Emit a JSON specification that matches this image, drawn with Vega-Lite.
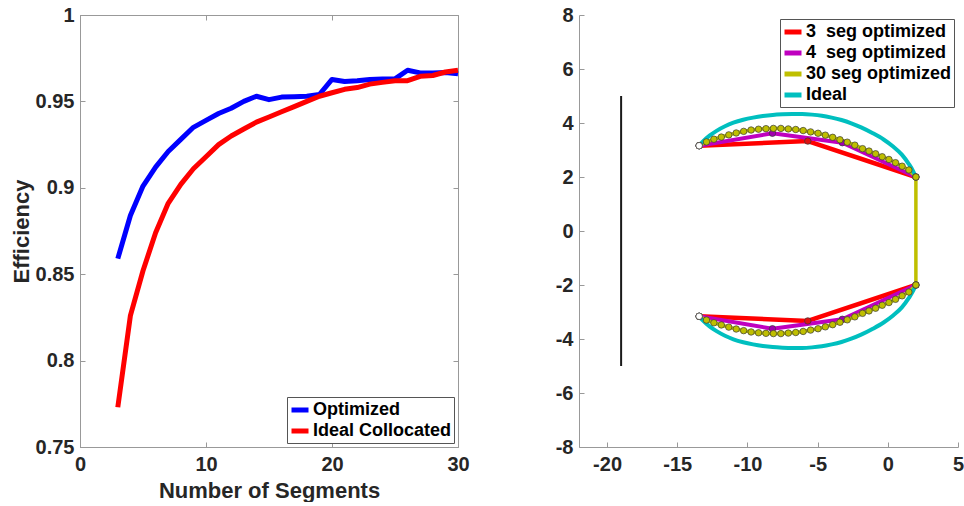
{
  "$schema": "https://vega.github.io/schema/vega-lite/v6.json",
  "background": "white",
  "padding": {"left": 9, "top": 4, "right": 0, "bottom": 0},
  "spacing": 121,
  "bounds": "flush",
  "datasets": {
    "eff": [
      {"n": 3, "eff": 0.859, "series": "Optimized"},
      {"n": 4, "eff": 0.884, "series": "Optimized"},
      {"n": 5, "eff": 0.901, "series": "Optimized"},
      {"n": 6, "eff": 0.912, "series": "Optimized"},
      {"n": 7, "eff": 0.921, "series": "Optimized"},
      {"n": 8, "eff": 0.928, "series": "Optimized"},
      {"n": 9, "eff": 0.935, "series": "Optimized"},
      {"n": 10, "eff": 0.939, "series": "Optimized"},
      {"n": 11, "eff": 0.943, "series": "Optimized"},
      {"n": 12, "eff": 0.946, "series": "Optimized"},
      {"n": 13, "eff": 0.950, "series": "Optimized"},
      {"n": 14, "eff": 0.953, "series": "Optimized"},
      {"n": 15, "eff": 0.951, "series": "Optimized"},
      {"n": 16, "eff": 0.9525, "series": "Optimized"},
      {"n": 17, "eff": 0.9527, "series": "Optimized"},
      {"n": 18, "eff": 0.953, "series": "Optimized"},
      {"n": 19, "eff": 0.954, "series": "Optimized"},
      {"n": 20, "eff": 0.9627, "series": "Optimized"},
      {"n": 21, "eff": 0.9615, "series": "Optimized"},
      {"n": 22, "eff": 0.962, "series": "Optimized"},
      {"n": 23, "eff": 0.9627, "series": "Optimized"},
      {"n": 24, "eff": 0.963, "series": "Optimized"},
      {"n": 25, "eff": 0.963, "series": "Optimized"},
      {"n": 26, "eff": 0.968, "series": "Optimized"},
      {"n": 27, "eff": 0.9665, "series": "Optimized"},
      {"n": 28, "eff": 0.9665, "series": "Optimized"},
      {"n": 29, "eff": 0.9667, "series": "Optimized"},
      {"n": 30, "eff": 0.966, "series": "Optimized"},
      {"n": 3, "eff": 0.773, "series": "Ideal Collocated"},
      {"n": 4, "eff": 0.826, "series": "Ideal Collocated"},
      {"n": 5, "eff": 0.852, "series": "Ideal Collocated"},
      {"n": 6, "eff": 0.874, "series": "Ideal Collocated"},
      {"n": 7, "eff": 0.891, "series": "Ideal Collocated"},
      {"n": 8, "eff": 0.902, "series": "Ideal Collocated"},
      {"n": 9, "eff": 0.911, "series": "Ideal Collocated"},
      {"n": 10, "eff": 0.918, "series": "Ideal Collocated"},
      {"n": 11, "eff": 0.925, "series": "Ideal Collocated"},
      {"n": 12, "eff": 0.930, "series": "Ideal Collocated"},
      {"n": 13, "eff": 0.934, "series": "Ideal Collocated"},
      {"n": 14, "eff": 0.938, "series": "Ideal Collocated"},
      {"n": 15, "eff": 0.941, "series": "Ideal Collocated"},
      {"n": 16, "eff": 0.944, "series": "Ideal Collocated"},
      {"n": 17, "eff": 0.947, "series": "Ideal Collocated"},
      {"n": 18, "eff": 0.950, "series": "Ideal Collocated"},
      {"n": 19, "eff": 0.953, "series": "Ideal Collocated"},
      {"n": 20, "eff": 0.955, "series": "Ideal Collocated"},
      {"n": 21, "eff": 0.957, "series": "Ideal Collocated"},
      {"n": 22, "eff": 0.958, "series": "Ideal Collocated"},
      {"n": 23, "eff": 0.960, "series": "Ideal Collocated"},
      {"n": 24, "eff": 0.961, "series": "Ideal Collocated"},
      {"n": 25, "eff": 0.962, "series": "Ideal Collocated"},
      {"n": 26, "eff": 0.962, "series": "Ideal Collocated"},
      {"n": 27, "eff": 0.9645, "series": "Ideal Collocated"},
      {"n": 28, "eff": 0.965, "series": "Ideal Collocated"},
      {"n": 29, "eff": 0.967, "series": "Ideal Collocated"},
      {"n": 30, "eff": 0.968, "series": "Ideal Collocated"}
    ],
    "wall": [
      {"x": -19, "y": 5},
      {"x": -19, "y": -5}
    ],
    "shape": [
      {"series": "3\u00a0 seg optimized", "part": "r-up", "ord": 0, "x": -13.44, "y": 3.16},
      {"series": "3\u00a0 seg optimized", "part": "r-up", "ord": 1, "x": -5.7, "y": 3.33},
      {"series": "3\u00a0 seg optimized", "part": "r-up", "ord": 2, "x": 2.0, "y": 2.0},
      {"series": "3\u00a0 seg optimized", "part": "r-lo", "ord": 0, "x": -13.44, "y": -3.16},
      {"series": "3\u00a0 seg optimized", "part": "r-lo", "ord": 1, "x": -5.7, "y": -3.33},
      {"series": "3\u00a0 seg optimized", "part": "r-lo", "ord": 2, "x": 2.0, "y": -2.0},
      {"series": "4\u00a0 seg optimized", "part": "m-up", "ord": 0, "x": -13.44, "y": 3.16},
      {"series": "4\u00a0 seg optimized", "part": "m-up", "ord": 1, "x": -8.22, "y": 3.62},
      {"series": "4\u00a0 seg optimized", "part": "m-up", "ord": 2, "x": -3.24, "y": 3.27},
      {"series": "4\u00a0 seg optimized", "part": "m-up", "ord": 3, "x": 2.0, "y": 2.0},
      {"series": "4\u00a0 seg optimized", "part": "m-lo", "ord": 0, "x": -13.44, "y": -3.16},
      {"series": "4\u00a0 seg optimized", "part": "m-lo", "ord": 1, "x": -8.22, "y": -3.62},
      {"series": "4\u00a0 seg optimized", "part": "m-lo", "ord": 2, "x": -3.24, "y": -3.27},
      {"series": "4\u00a0 seg optimized", "part": "m-lo", "ord": 3, "x": 2.0, "y": -2.0},
      {"series": "30 seg optimized", "part": "y", "ord": 0, "x": -13.44, "y": 3.16},
      {"series": "30 seg optimized", "part": "y", "ord": 1, "x": -12.92, "y": 3.30},
      {"series": "30 seg optimized", "part": "y", "ord": 2, "x": -12.39, "y": 3.40},
      {"series": "30 seg optimized", "part": "y", "ord": 3, "x": -11.86, "y": 3.48},
      {"series": "30 seg optimized", "part": "y", "ord": 4, "x": -11.33, "y": 3.56},
      {"series": "30 seg optimized", "part": "y", "ord": 5, "x": -10.80, "y": 3.63},
      {"series": "30 seg optimized", "part": "y", "ord": 6, "x": -10.27, "y": 3.69},
      {"series": "30 seg optimized", "part": "y", "ord": 7, "x": -9.74, "y": 3.74},
      {"series": "30 seg optimized", "part": "y", "ord": 8, "x": -9.21, "y": 3.77},
      {"series": "30 seg optimized", "part": "y", "ord": 9, "x": -8.68, "y": 3.79},
      {"series": "30 seg optimized", "part": "y", "ord": 10, "x": -8.15, "y": 3.80},
      {"series": "30 seg optimized", "part": "y", "ord": 11, "x": -7.62, "y": 3.80},
      {"series": "30 seg optimized", "part": "y", "ord": 12, "x": -7.09, "y": 3.78},
      {"series": "30 seg optimized", "part": "y", "ord": 13, "x": -6.56, "y": 3.76},
      {"series": "30 seg optimized", "part": "y", "ord": 14, "x": -6.03, "y": 3.72},
      {"series": "30 seg optimized", "part": "y", "ord": 15, "x": -5.50, "y": 3.67},
      {"series": "30 seg optimized", "part": "y", "ord": 16, "x": -4.97, "y": 3.62},
      {"series": "30 seg optimized", "part": "y", "ord": 17, "x": -4.45, "y": 3.55},
      {"series": "30 seg optimized", "part": "y", "ord": 18, "x": -3.93, "y": 3.47},
      {"series": "30 seg optimized", "part": "y", "ord": 19, "x": -3.41, "y": 3.38},
      {"series": "30 seg optimized", "part": "y", "ord": 20, "x": -2.89, "y": 3.29},
      {"series": "30 seg optimized", "part": "y", "ord": 21, "x": -2.35, "y": 3.18},
      {"series": "30 seg optimized", "part": "y", "ord": 22, "x": -1.80, "y": 3.05},
      {"series": "30 seg optimized", "part": "y", "ord": 23, "x": -1.34, "y": 2.96},
      {"series": "30 seg optimized", "part": "y", "ord": 24, "x": -0.87, "y": 2.86},
      {"series": "30 seg optimized", "part": "y", "ord": 25, "x": -0.40, "y": 2.75},
      {"series": "30 seg optimized", "part": "y", "ord": 26, "x": 0.08, "y": 2.65},
      {"series": "30 seg optimized", "part": "y", "ord": 27, "x": 0.55, "y": 2.53},
      {"series": "30 seg optimized", "part": "y", "ord": 28, "x": 1.02, "y": 2.40},
      {"series": "30 seg optimized", "part": "y", "ord": 29, "x": 1.50, "y": 2.26},
      {"series": "30 seg optimized", "part": "y", "ord": 30, "x": 2.00, "y": 2.00},
      {"series": "30 seg optimized", "part": "y", "ord": 31, "x": 2.00, "y": -2.00},
      {"series": "30 seg optimized", "part": "y", "ord": 32, "x": 1.50, "y": -2.26},
      {"series": "30 seg optimized", "part": "y", "ord": 33, "x": 1.02, "y": -2.40},
      {"series": "30 seg optimized", "part": "y", "ord": 34, "x": 0.55, "y": -2.53},
      {"series": "30 seg optimized", "part": "y", "ord": 35, "x": 0.08, "y": -2.65},
      {"series": "30 seg optimized", "part": "y", "ord": 36, "x": -0.40, "y": -2.75},
      {"series": "30 seg optimized", "part": "y", "ord": 37, "x": -0.87, "y": -2.86},
      {"series": "30 seg optimized", "part": "y", "ord": 38, "x": -1.34, "y": -2.96},
      {"series": "30 seg optimized", "part": "y", "ord": 39, "x": -1.80, "y": -3.05},
      {"series": "30 seg optimized", "part": "y", "ord": 40, "x": -2.35, "y": -3.18},
      {"series": "30 seg optimized", "part": "y", "ord": 41, "x": -2.89, "y": -3.29},
      {"series": "30 seg optimized", "part": "y", "ord": 42, "x": -3.41, "y": -3.38},
      {"series": "30 seg optimized", "part": "y", "ord": 43, "x": -3.93, "y": -3.47},
      {"series": "30 seg optimized", "part": "y", "ord": 44, "x": -4.45, "y": -3.55},
      {"series": "30 seg optimized", "part": "y", "ord": 45, "x": -4.97, "y": -3.62},
      {"series": "30 seg optimized", "part": "y", "ord": 46, "x": -5.50, "y": -3.67},
      {"series": "30 seg optimized", "part": "y", "ord": 47, "x": -6.03, "y": -3.72},
      {"series": "30 seg optimized", "part": "y", "ord": 48, "x": -6.56, "y": -3.76},
      {"series": "30 seg optimized", "part": "y", "ord": 49, "x": -7.09, "y": -3.78},
      {"series": "30 seg optimized", "part": "y", "ord": 50, "x": -7.62, "y": -3.80},
      {"series": "30 seg optimized", "part": "y", "ord": 51, "x": -8.15, "y": -3.80},
      {"series": "30 seg optimized", "part": "y", "ord": 52, "x": -8.68, "y": -3.79},
      {"series": "30 seg optimized", "part": "y", "ord": 53, "x": -9.21, "y": -3.77},
      {"series": "30 seg optimized", "part": "y", "ord": 54, "x": -9.74, "y": -3.74},
      {"series": "30 seg optimized", "part": "y", "ord": 55, "x": -10.27, "y": -3.69},
      {"series": "30 seg optimized", "part": "y", "ord": 56, "x": -10.80, "y": -3.63},
      {"series": "30 seg optimized", "part": "y", "ord": 57, "x": -11.33, "y": -3.56},
      {"series": "30 seg optimized", "part": "y", "ord": 58, "x": -11.86, "y": -3.48},
      {"series": "30 seg optimized", "part": "y", "ord": 59, "x": -12.39, "y": -3.40},
      {"series": "30 seg optimized", "part": "y", "ord": 60, "x": -12.92, "y": -3.30},
      {"series": "30 seg optimized", "part": "y", "ord": 61, "x": -13.44, "y": -3.16},
      {"series": "Ideal", "part": "c-up", "ord": 0, "x": -13.44, "y": 3.16},
      {"series": "Ideal", "part": "c-up", "ord": 1, "x": -13.2, "y": 3.30},
      {"series": "Ideal", "part": "c-up", "ord": 2, "x": -12.7, "y": 3.53},
      {"series": "Ideal", "part": "c-up", "ord": 3, "x": -12.2, "y": 3.71},
      {"series": "Ideal", "part": "c-up", "ord": 4, "x": -11.6, "y": 3.88},
      {"series": "Ideal", "part": "c-up", "ord": 5, "x": -11.0, "y": 4.01},
      {"series": "Ideal", "part": "c-up", "ord": 6, "x": -10.3, "y": 4.12},
      {"series": "Ideal", "part": "c-up", "ord": 7, "x": -9.6, "y": 4.20},
      {"series": "Ideal", "part": "c-up", "ord": 8, "x": -8.9, "y": 4.26},
      {"series": "Ideal", "part": "c-up", "ord": 9, "x": -8.2, "y": 4.30},
      {"series": "Ideal", "part": "c-up", "ord": 10, "x": -7.5, "y": 4.32},
      {"series": "Ideal", "part": "c-up", "ord": 11, "x": -6.8, "y": 4.33},
      {"series": "Ideal", "part": "c-up", "ord": 12, "x": -6.1, "y": 4.33},
      {"series": "Ideal", "part": "c-up", "ord": 13, "x": -5.4, "y": 4.31},
      {"series": "Ideal", "part": "c-up", "ord": 14, "x": -4.7, "y": 4.27},
      {"series": "Ideal", "part": "c-up", "ord": 15, "x": -4.0, "y": 4.20},
      {"series": "Ideal", "part": "c-up", "ord": 16, "x": -3.3, "y": 4.11},
      {"series": "Ideal", "part": "c-up", "ord": 17, "x": -2.6, "y": 3.99},
      {"series": "Ideal", "part": "c-up", "ord": 18, "x": -1.9, "y": 3.84},
      {"series": "Ideal", "part": "c-up", "ord": 19, "x": -1.1, "y": 3.63},
      {"series": "Ideal", "part": "c-up", "ord": 20, "x": -0.3, "y": 3.39},
      {"series": "Ideal", "part": "c-up", "ord": 21, "x": 0.4, "y": 3.12},
      {"series": "Ideal", "part": "c-up", "ord": 22, "x": 1.0, "y": 2.83},
      {"series": "Ideal", "part": "c-up", "ord": 23, "x": 1.5, "y": 2.48},
      {"series": "Ideal", "part": "c-up", "ord": 24, "x": 1.8, "y": 2.22},
      {"series": "Ideal", "part": "c-up", "ord": 25, "x": 2.0, "y": 2.0},
      {"series": "Ideal", "part": "c-lo", "ord": 0, "x": -13.44, "y": -3.16},
      {"series": "Ideal", "part": "c-lo", "ord": 1, "x": -13.2, "y": -3.30},
      {"series": "Ideal", "part": "c-lo", "ord": 2, "x": -12.7, "y": -3.53},
      {"series": "Ideal", "part": "c-lo", "ord": 3, "x": -12.2, "y": -3.71},
      {"series": "Ideal", "part": "c-lo", "ord": 4, "x": -11.6, "y": -3.88},
      {"series": "Ideal", "part": "c-lo", "ord": 5, "x": -11.0, "y": -4.01},
      {"series": "Ideal", "part": "c-lo", "ord": 6, "x": -10.3, "y": -4.12},
      {"series": "Ideal", "part": "c-lo", "ord": 7, "x": -9.6, "y": -4.20},
      {"series": "Ideal", "part": "c-lo", "ord": 8, "x": -8.9, "y": -4.26},
      {"series": "Ideal", "part": "c-lo", "ord": 9, "x": -8.2, "y": -4.30},
      {"series": "Ideal", "part": "c-lo", "ord": 10, "x": -7.5, "y": -4.32},
      {"series": "Ideal", "part": "c-lo", "ord": 11, "x": -6.8, "y": -4.33},
      {"series": "Ideal", "part": "c-lo", "ord": 12, "x": -6.1, "y": -4.33},
      {"series": "Ideal", "part": "c-lo", "ord": 13, "x": -5.4, "y": -4.31},
      {"series": "Ideal", "part": "c-lo", "ord": 14, "x": -4.7, "y": -4.27},
      {"series": "Ideal", "part": "c-lo", "ord": 15, "x": -4.0, "y": -4.20},
      {"series": "Ideal", "part": "c-lo", "ord": 16, "x": -3.3, "y": -4.11},
      {"series": "Ideal", "part": "c-lo", "ord": 17, "x": -2.6, "y": -3.99},
      {"series": "Ideal", "part": "c-lo", "ord": 18, "x": -1.9, "y": -3.84},
      {"series": "Ideal", "part": "c-lo", "ord": 19, "x": -1.1, "y": -3.63},
      {"series": "Ideal", "part": "c-lo", "ord": 20, "x": -0.3, "y": -3.39},
      {"series": "Ideal", "part": "c-lo", "ord": 21, "x": 0.4, "y": -3.12},
      {"series": "Ideal", "part": "c-lo", "ord": 22, "x": 1.0, "y": -2.83},
      {"series": "Ideal", "part": "c-lo", "ord": 23, "x": 1.5, "y": -2.48},
      {"series": "Ideal", "part": "c-lo", "ord": 24, "x": 1.8, "y": -2.22},
      {"series": "Ideal", "part": "c-lo", "ord": 25, "x": 2.0, "y": -2.0}
    ]
  },
  "hconcat": [
    {
      "width": 378,
      "height": 432,
      "data": {"name": "eff"},
      "resolve": {"axis": {"x": "independent", "y": "independent"}},
      "layer": [
        {
          "mark": {"type": "line", "strokeWidth": 5, "strokeJoin": "round"},
          "encoding": {
            "x": {"field": "n", "type": "quantitative", "scale": {"domain": [0, 30], "nice": false},
                  "axis": {"values": [0, 10, 20, 30], "title": "Number of Segments", "titlePadding": 6}},
            "y": {"field": "eff", "type": "quantitative", "scale": {"domain": [0.75, 1], "nice": false, "zero": false},
                  "axis": {"values": [0.75, 0.8, 0.85, 0.9, 0.95, 1], "format": "~g", "title": "Efficiency", "titlePadding": 2, "labelPadding": 11}},
            "color": {"field": "series", "type": "nominal",
                      "scale": {"domain": ["Optimized", "Ideal Collocated"], "range": ["#0000ff", "#ff0000"]},
                      "legend": {"orient": "bottom-right", "offset": 4, "title": null, "rowPadding": -2}}
          }
        },
        {
          "mark": {"type": "point", "opacity": 0},
          "encoding": {
            "x": {"field": "n", "type": "quantitative",
                  "axis": {"orient": "top", "values": [0, 10, 20, 30], "labels": false, "domain": false, "title": null}},
            "y": {"field": "eff", "type": "quantitative",
                  "axis": {"orient": "right", "values": [0.75, 0.8, 0.85, 0.9, 0.95, 1], "labels": false, "domain": false, "title": null}}
          }
        }
      ]
    },
    {
      "width": 379,
      "height": 432,
      "view": {"stroke": null},
      "layer": [
        {
          "data": {"name": "wall"},
          "mark": {"type": "line", "color": "#1a1a1a", "strokeWidth": 2},
          "encoding": {
            "x": {"field": "x", "type": "quantitative", "scale": {"domain": [-22, 5], "nice": false},
                  "axis": {"values": [-20, -15, -10, -5, 0, 5], "title": null, "labelExpr": "'' + datum.value"}},
            "y": {"field": "y", "type": "quantitative", "scale": {"domain": [-8, 8], "nice": false},
                  "axis": {"values": [-8, -6, -4, -2, 0, 2, 4, 6, 8], "title": null, "labelPadding": 11, "labelExpr": "'' + datum.value"}}
          }
        },
        {
          "data": {"name": "shape"},
          "transform": [{"filter": "datum.series != 'Ideal'"}],
          "mark": {"type": "line", "strokeJoin": "round"},
          "encoding": {
            "x": {"field": "x", "type": "quantitative"},
            "y": {"field": "y", "type": "quantitative"},
            "detail": {"field": "part"},
            "order": {"field": "ord", "type": "quantitative"},
            "color": {"field": "series", "type": "nominal",
                      "scale": {"domain": ["3\u00a0 seg optimized", "4\u00a0 seg optimized", "30 seg optimized", "Ideal"],
                                "range": ["#ff0000", "#bf00bf", "#bfbf00", "#00bfbf"]},
                      "legend": {"orient": "top-right", "offset": 4, "title": null, "rowPadding": -1}},
            "strokeWidth": {"field": "series", "type": "nominal",
                      "scale": {"domain": ["3\u00a0 seg optimized", "4\u00a0 seg optimized", "30 seg optimized"],
                                "range": [4.5, 3.5, 3.5]},
                      "legend": null}
          }
        },
        {
          "data": {"name": "shape"},
          "transform": [{"filter": "datum.series == 'Ideal'"}],
          "mark": {"type": "line", "strokeWidth": 4, "interpolate": "monotone"},
          "encoding": {
            "x": {"field": "x", "type": "quantitative"},
            "y": {"field": "y", "type": "quantitative"},
            "detail": {"field": "part"},
            "order": {"field": "ord", "type": "quantitative"},
            "color": {"field": "series", "type": "nominal"}
          }
        },
        {
          "data": {"name": "shape"},
          "transform": [{"filter": "datum.series != 'Ideal'"}],
          "mark": {"type": "point", "filled": true, "size": 42, "stroke": "#3a3a3a", "strokeWidth": 0.7, "opacity": 1},
          "encoding": {
            "x": {"field": "x", "type": "quantitative"},
            "y": {"field": "y", "type": "quantitative"},
            "fill": {"field": "series", "type": "nominal",
                     "scale": {"domain": ["3\u00a0 seg optimized", "4\u00a0 seg optimized", "30 seg optimized"],
                               "range": ["#e01010", "#a000b0", "#bfbf00"]},
                     "legend": null}
          }
        },
        {
          "data": {"name": "shape"},
          "transform": [{"filter": "datum.series == '30 seg optimized' && datum.x < -13.4"}],
          "mark": {"type": "point", "filled": true, "size": 42, "fill": "white", "stroke": "#3a3a3a", "strokeWidth": 0.7, "opacity": 1},
          "encoding": {
            "x": {"field": "x", "type": "quantitative"},
            "y": {"field": "y", "type": "quantitative"}
          }
        }
      ]
    }
  ],
  "resolve": {"scale": {"color": "independent", "x": "independent", "y": "independent"}, "legend": {"color": "independent"}},
  "config": {
    "font": "Liberation Sans",
    "view": {"stroke": "#999999", "strokeWidth": 1},
    "axis": {
      "grid": false, "labelFlush": false,
      "labelFont": "Liberation Sans", "labelFontSize": 20, "labelFontWeight": "bold", "labelColor": "#262626",
      "titleFont": "Liberation Sans", "titleFontSize": 22, "titleFontWeight": "bold", "titleColor": "#262626",
      "domainColor": "#999999", "tickColor": "#999999", "tickSize": -5, "labelPadding": 12
    },
    "legend": {
      "labelFont": "Liberation Sans", "labelFontSize": 18, "labelFontWeight": "bold", "labelColor": "#000000",
      "symbolType": "stroke", "symbolStrokeWidth": 5, "symbolSize": 289, "labelOffset": 2,
      "strokeColor": "#555555", "fillColor": "white", "padding": 2, "labelLimit": 300
    }
  }
}
